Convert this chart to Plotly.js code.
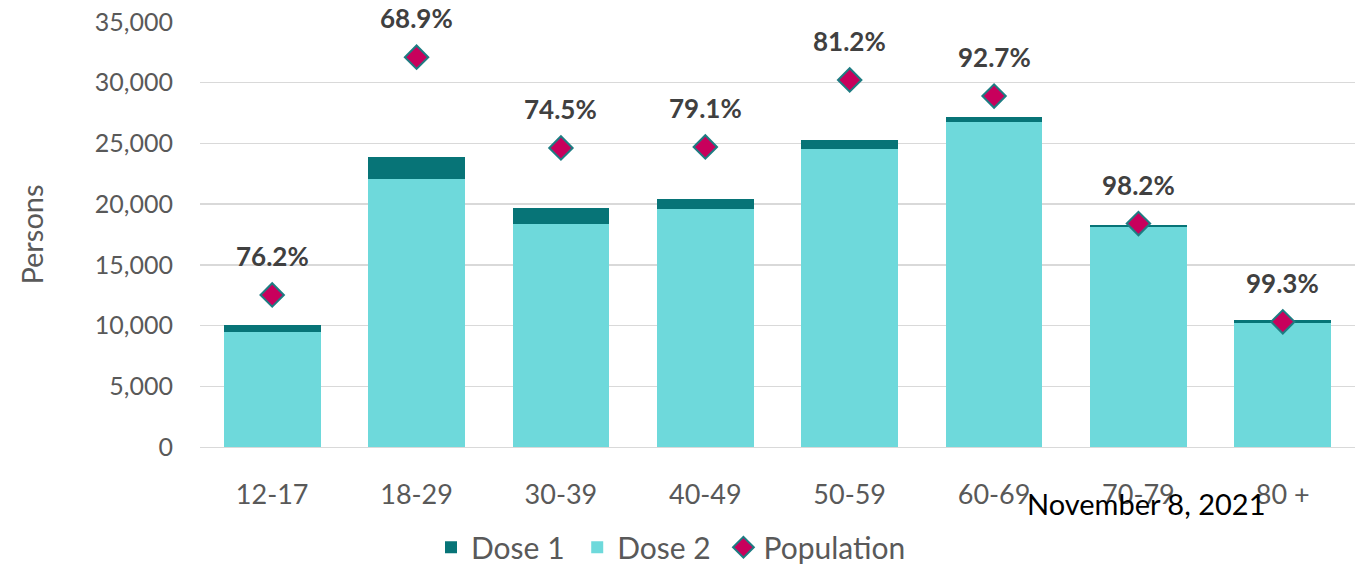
<!DOCTYPE html>
<html>
<head>
<meta charset="utf-8">
<script src="https://cdn.plot.ly/plotly-3.0.1.min.js"></script>
<style>html,body{margin:0;padding:0;background:#fff;}#chart{width:1355px;height:565px;}</style>
</head>
<body>
<div id="chart"></div>
<script>
const categories = ["12-17", "18-29", "30-39", "40-49", "50-59", "60-69", "70-79", "80 +"];
const dose1 = [550, 1800, 1360, 830, 770, 460, 190, 220];
const dose2 = [9500, 22100, 18350, 19600, 24520, 26750, 18100, 10240];
const population = [12520, 32100, 24630, 24710, 30230, 28900, 18400, 10310];
const pctLabels = ["76.2%", "68.9%", "74.5%", "79.1%", "81.2%", "92.7%", "98.2%", "99.3%"];
const yTicks = [0, 5000, 10000, 15000, 20000, 25000, 30000, 35000];
const seriesNames = ["Dose 1", "Dose 2", "Population"];
const dateNote = "November 8, 2021";

const FONT = "Lato, 'Open Sans', sans-serif";
const GREY = "#595959";
const PAD = "\u00a0";

const traces = [
  {
    type: "bar", name: seriesNames[1] + PAD, x: categories, y: dose2,
    marker: {color: "#6ED9DB"}, legendrank: 2, hoverinfo: "skip"
  },
  {
    type: "bar", name: seriesNames[0] + PAD, x: categories, y: dose1,
    marker: {color: "#077477"}, legendrank: 1, hoverinfo: "skip"
  },
  {
    type: "scatter", mode: "markers", name: seriesNames[2], x: categories, y: population,
    marker: {symbol: "diamond", size: 18, color: "#C8005C", line: {color: "#1E7C82", width: 2}},
    legendrank: 3, hoverinfo: "skip"
  }
];

const annotations = categories.map((c, i) => ({
  x: c, y: population[i], xref: "x", yref: "y",
  text: "<b>" + pctLabels[i] + "</b>", showarrow: false,
  yshift: 39, font: {family: FONT, size: 26, color: "#404040"}
}));
annotations.push({
  xref: "paper", yref: "paper", x: 0.819, y: -0.132, xanchor: "center", yanchor: "middle",
  text: dateNote, showarrow: false, font: {family: FONT, size: 29, color: "#000000"}
});

const layout = {
  width: 1355, height: 565,
  margin: {l: 200, r: 0, t: 22, b: 118, autoexpand: false},
  paper_bgcolor: "#fff", plot_bgcolor: "#fff",
  barmode: "stack", bargap: 0.33,
  font: {family: FONT, size: 24, color: GREY},
  xaxis: {
    type: "category", showgrid: false, zeroline: false, showline: false, automargin: false,
    ticks: "outside", ticklen: 24, tickcolor: "rgba(0,0,0,0)",
    tickfont: {family: FONT, size: 27, color: GREY}
  },
  yaxis: {
    range: [0, 35000], tickvals: yTicks, tickformat: ",d", automargin: false,
    showgrid: true, gridcolor: "#D9D9D9", gridwidth: 1.3, zeroline: true, zerolinecolor: "#D9D9D9",
    ticks: "outside", ticklen: 21, tickcolor: "rgba(0,0,0,0)",
    tickfont: {family: FONT, size: 25, color: GREY},
    title: {text: "Persons", font: {family: FONT, size: 29, color: GREY}, standoff: 42}
  },
  showlegend: true,
  legend: {
    orientation: "h", x: 0.2, xanchor: "left", y: -0.236, yanchor: "middle",
    font: {family: FONT, size: 30, color: GREY}, traceorder: "normal",
    itemwidth: 30, bgcolor: "rgba(0,0,0,0)"
  },
  annotations: annotations
};

Plotly.newPlot("chart", traces, layout, {staticPlot: true, displayModeBar: false});
</script>
</body>
</html>
